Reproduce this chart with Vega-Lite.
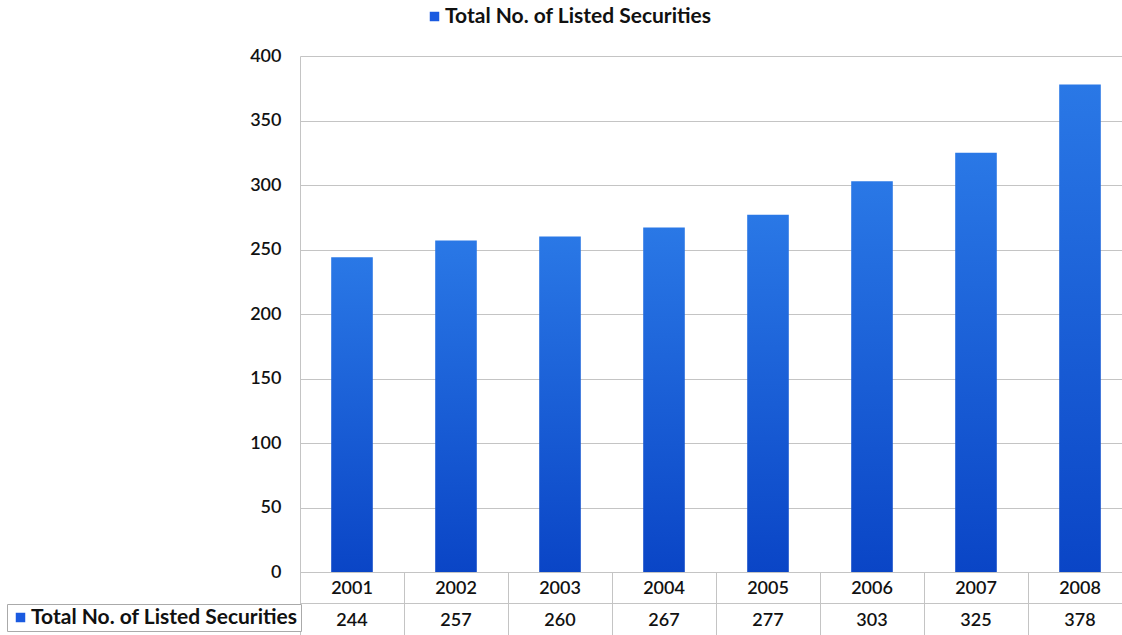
{
  "$schema": "https://vega.github.io/schema/vega-lite/v6.json",
  "padding": {"left": 6, "top": 6, "right": 0, "bottom": 0},
  "background": "white",
  "config": {
    "font": "Lato",
    "view": {"stroke": null},
    "axis": {"gridColor": "#c4c4c4", "domainColor": "#c4c4c4"}
  },
  "datasets": {
    "d": [
      {"year": "2001", "value": 244},
      {"year": "2002", "value": 257},
      {"year": "2003", "value": 260},
      {"year": "2004", "value": 267},
      {"year": "2005", "value": 277},
      {"year": "2006", "value": 303},
      {"year": "2007", "value": 325},
      {"year": "2008", "value": 378}
    ]
  },
  "bounds": "flush",
  "spacing": 0,
  "vconcat": [
    {
      "width": 832,
      "height": 516,
      "data": {"name": "d"},
      "layer": [
        {
          "mark": {
            "type": "bar",
            "fill": {
              "gradient": "linear", "x1": 0, "y1": 0, "x2": 0, "y2": 1,
              "stops": [
                {"offset": 0, "color": "#2a78e6"},
                {"offset": 1, "color": "#0a45c6"}
              ]
            }
          },
          "encoding": {
            "x": {"field": "year", "type": "nominal", "scale": {"type": "band", "paddingInner": 0.6, "paddingOuter": 0.3}, "axis": null},
            "y": {
              "field": "value", "type": "quantitative",
              "scale": {"domain": [0, 400]},
              "axis": {
                "values": [0, 50, 100, 150, 200, 250, 300, 350, 400],
                "grid": true, "domain": true, "ticks": false,
                "labelPadding": 19, "labelFontSize": 18, "labelFontWeight": 600, "labelColor": "#111", "title": null
              }
            }
          }
        },
        {
          "mark": {"type": "point", "opacity": 0, "filled": true},
          "encoding": {
            "x": {"field": "year", "type": "nominal"},
            "y": {"field": "value", "type": "quantitative"},
            "color": {
              "datum": "Total No. of Listed Securities", "type": "nominal",
              "scale": {"range": ["#1a5ae0"]},
              "legend": {
                "orient": "none", "legendX": 124, "legendY": -50, "title": null,
                "symbolType": "square", "symbolOpacity": 1, "symbolSize": 90, "symbolStrokeWidth": 0, "symbolFillColor": "#1a5ae0",
                "labelFontSize": 21, "labelFontWeight": "bold", "labelColor": "#111", "labelLimit": 400, "labelOffset": 0
              }
            }
          }
        }
      ]
    },
    {
      "width": 832,
      "height": 63,
      "data": {"name": "d"},
      "view": {"stroke": "#c4c4c4"},
      "layer": [
        {
          "mark": {"type": "text", "fontSize": 18, "fontWeight": 600, "color": "#111", "dy": 1},
          "encoding": {
            "x": {
              "field": "year", "type": "nominal",
              "scale": {"type": "band", "paddingInner": 0, "paddingOuter": 0},
              "axis": {"grid": true, "bandPosition": 0, "labels": false, "ticks": false, "domain": false, "title": null}
            },
            "y": {
              "datum": "years", "type": "nominal",
              "scale": {"type": "band", "domain": ["years", "values"], "paddingInner": 0, "paddingOuter": 0},
              "axis": {"grid": true, "bandPosition": 0, "labels": false, "ticks": false, "domain": false, "title": null}
            },
            "text": {"field": "year"}
          }
        },
        {
          "mark": {"type": "text", "fontSize": 18, "fontWeight": 600, "color": "#111", "dy": 2},
          "encoding": {
            "x": {"field": "year", "type": "nominal"},
            "y": {"datum": "values", "type": "nominal"},
            "text": {"field": "value"}
          }
        },
        {
          "mark": {"type": "point", "opacity": 0, "filled": true},
          "encoding": {
            "x": {"field": "year", "type": "nominal"},
            "y": {"datum": "values", "type": "nominal"},
            "color": {
              "datum": "Total No. of Listed Securities", "type": "nominal",
              "scale": {"range": ["#1a5ae0"]},
              "legend": {
                "orient": "none", "legendX": -293, "legendY": 32, "title": null,
                "symbolType": "square", "symbolOpacity": 1, "symbolSize": 90, "symbolStrokeWidth": 0, "symbolFillColor": "#1a5ae0",
                "labelFontSize": 21, "labelFontWeight": "bold", "labelColor": "#111", "labelLimit": 400, "labelOffset": 0,
                "strokeColor": "#aaaaaa", "padding": 3, "fillColor": "white"
              }
            }
          }
        }
      ]
    }
  ],
  "resolve": {"scale": {"color": "independent"}, "legend": {"color": "independent"}}
}
